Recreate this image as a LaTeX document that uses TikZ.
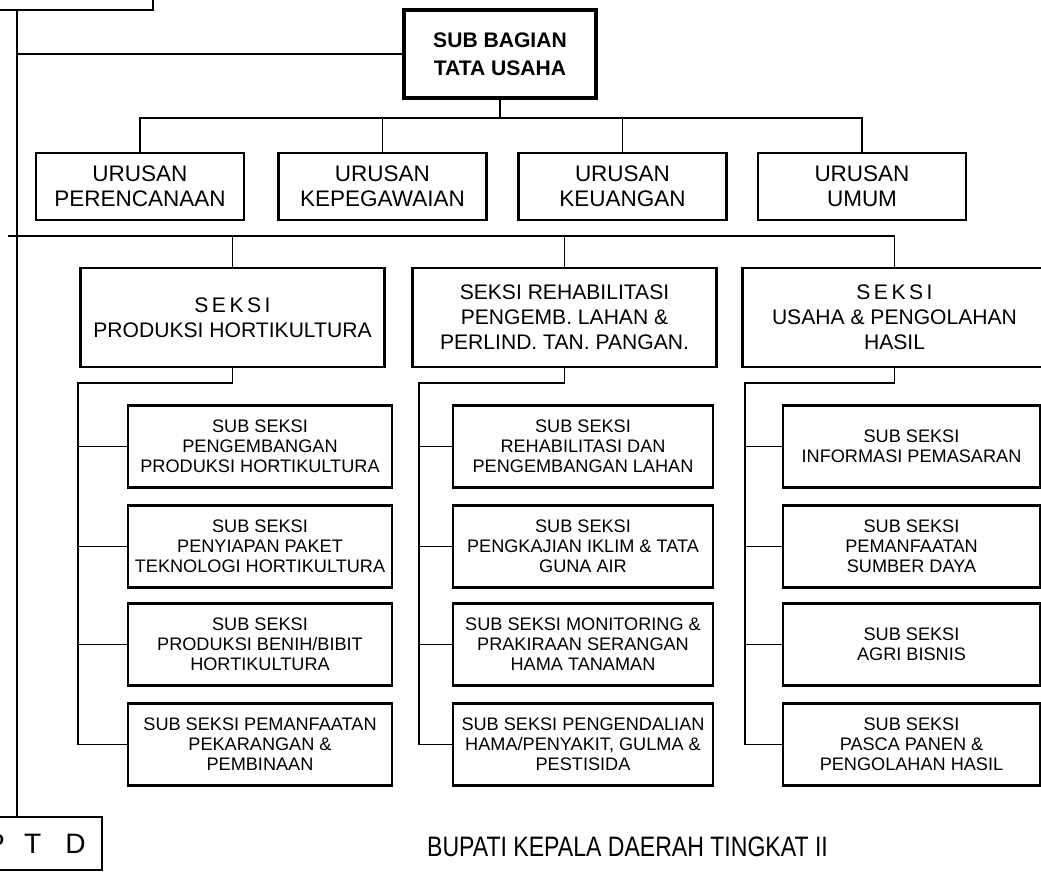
\documentclass[tikz,border=0pt]{standalone}
\usepackage{fontspec}
\setmainfont{Liberation Sans}
\newfontfamily\narrowfont[FakeStretch=0.82]{Liberation Sans}

\tikzset{
  box/.style={draw, line width=1.9pt, align=center, inner sep=0pt},
  bagbox/.style={box, line width=2.2pt, minimum width=4.8cm, minimum height=2.2cm,
    font={\fontsize{15}{20}\selectfont\bfseries}},
  urbox/.style={box, minimum width=5.2cm, minimum height=1.675cm,
    font={\fontsize{16}{17.8}\selectfont}},
  sekbox/.style={box, line width=1.7pt, minimum width=7.6cm, minimum height=2.475cm,
    font={\fontsize{15}{17.8}\selectfont}},
  subbox/.style={box, line width=1.7pt, minimum height=2.05cm,
    font={\fontsize{12.9}{14.2}\selectfont}},
  link/.style={line width=1pt}
}

\begin{document}
\begin{tikzpicture}[x=0.025cm,y=-0.025cm]
\useasboundingbox (0,0) rectangle (1041,872);
\clip (0,0) rectangle (1041,872);

% box above, cut off by the page
\node[box, minimum width=5.825cm, minimum height=1.75cm] (kepala) at (36.5,-25) {};
\coordinate (spine) at (17,10);

\node[bagbox] (sbtu) at (500,54) {SUB BAGIAN\\TATA USAHA};

\node[urbox] (ur1) at (140,186.5) {URUSAN\\PERENCANAAN};
\node[urbox] (ur2) at (382.5,186.5) {URUSAN\\KEPEGAWAIAN};
\node[urbox] (ur3) at (622.5,186.5) {URUSAN\\KEUANGAN};
\node[urbox] (ur4) at (862,186.5) {URUSAN\\UMUM};

\node[sekbox] (sek1) at (232.5,317.5) {S\,E\,K\,S\,I\\PRODUKSI HORTIKULTURA};
\node[sekbox] (sek2) at (564.5,317.5) {SEKSI REHABILITASI\\PENGEMB. LAHAN \&\\PERLIND. TAN. PANGAN.};
\node[sekbox] (sek3) at (894.5,317.5) {S\,E\,K\,S\,I\\USAHA \& PENGOLAHAN\\HASIL};

% sub seksi, first column
\node[subbox, minimum width=6.6cm] (a1) at (260,446.5) {SUB SEKSI\\PENGEMBANGAN\\PRODUKSI HORTIKULTURA};
\node[subbox, minimum width=6.6cm] (a2) at (260,546.5) {SUB SEKSI\\PENYIAPAN PAKET\\TEKNOLOGI HORTIKULTURA};
\node[subbox, minimum width=6.6cm] (a3) at (260,644.5) {SUB SEKSI\\PRODUKSI BENIH/BIBIT\\HORTIKULTURA};
\node[subbox, minimum width=6.6cm] (a4) at (260,744.5) {SUB SEKSI PEMANFAATAN\\PEKARANGAN \&\\PEMBINAAN};

% sub seksi, second column
\node[subbox, minimum width=6.5cm] (b1) at (583,446.5) {SUB SEKSI\\REHABILITASI DAN\\PENGEMBANGAN LAHAN};
\node[subbox, minimum width=6.5cm] (b2) at (583,546.5) {SUB SEKSI\\PENGKAJIAN IKLIM \& TATA\\GUNA AIR};
\node[subbox, minimum width=6.5cm] (b3) at (583,644.5) {SUB SEKSI MONITORING \&\\PRAKIRAAN SERANGAN\\HAMA TANAMAN};
\node[subbox, minimum width=6.5cm] (b4) at (583,744.5) {SUB SEKSI PENGENDALIAN\\HAMA/PENYAKIT, GULMA \&\\PESTISIDA};

% sub seksi, third column
\node[subbox, minimum width=6.425cm] (c1) at (911.5,446.5) {SUB SEKSI\\INFORMASI PEMASARAN};
\node[subbox, minimum width=6.425cm] (c2) at (911.5,546.5) {SUB SEKSI\\PEMANFAATAN\\SUMBER DAYA};
\node[subbox, minimum width=6.425cm] (c3) at (911.5,644.5) {SUB SEKSI\\AGRI BISNIS};
\node[subbox, minimum width=6.425cm] (c4) at (911.5,744.5) {SUB SEKSI\\PASCA PANEN \&\\PENGOLAHAN HASIL};

\node[box, minimum width=3.3cm, minimum height=1.325cm, font={\fontsize{20}{24}\selectfont}] (uptd) at (36,843.5) {P\hspace{0.68em}T\hspace{0.86em}D};
\node[font={\narrowfont\fontsize{20}{24}\selectfont}] (bupati) at (627.5,847) {BUPATI KEPALA DAERAH TINGKAT II};

% lines
\draw[link] (spine) -- (spine |- uptd.north);
\draw[link] (sbtu.west) -- (sbtu.west -| spine);
\coordinate (ubus) at (500,118);
\draw[link] (sbtu.south) -- (ubus);
\draw[link] (ur1.north) |- (ubus) -| (ur4.north);
\draw[link] (ur2.north) -- (ur2.north |- ubus);
\draw[link] (ur3.north) -- (ur3.north |- ubus);

\coordinate (sbus) at (8,236);
\draw[link] (sbus) -| (sek3.north);
\draw[link] (sek1.north) -- (sek1.north |- sbus);
\draw[link] (sek2.north) -- (sek2.north |- sbus);

\coordinate (rail1) at (78,383);
\draw[link] (sek1.south) |- (rail1) |- (a4.west);
\draw[link] (a1.west) -- (a1.west -| rail1);
\draw[link] (a2.west) -- (a2.west -| rail1);
\draw[link] (a3.west) -- (a3.west -| rail1);

\coordinate (rail2) at (419,383);
\draw[link] (sek2.south) |- (rail2) |- (b4.west);
\draw[link] (b1.west) -- (b1.west -| rail2);
\draw[link] (b2.west) -- (b2.west -| rail2);
\draw[link] (b3.west) -- (b3.west -| rail2);

\coordinate (rail3) at (745,383);
\draw[link] (sek3.south) |- (rail3) |- (c4.west);
\draw[link] (c1.west) -- (c1.west -| rail3);
\draw[link] (c2.west) -- (c2.west -| rail3);
\draw[link] (c3.west) -- (c3.west -| rail3);
\end{tikzpicture}
\end{document}
